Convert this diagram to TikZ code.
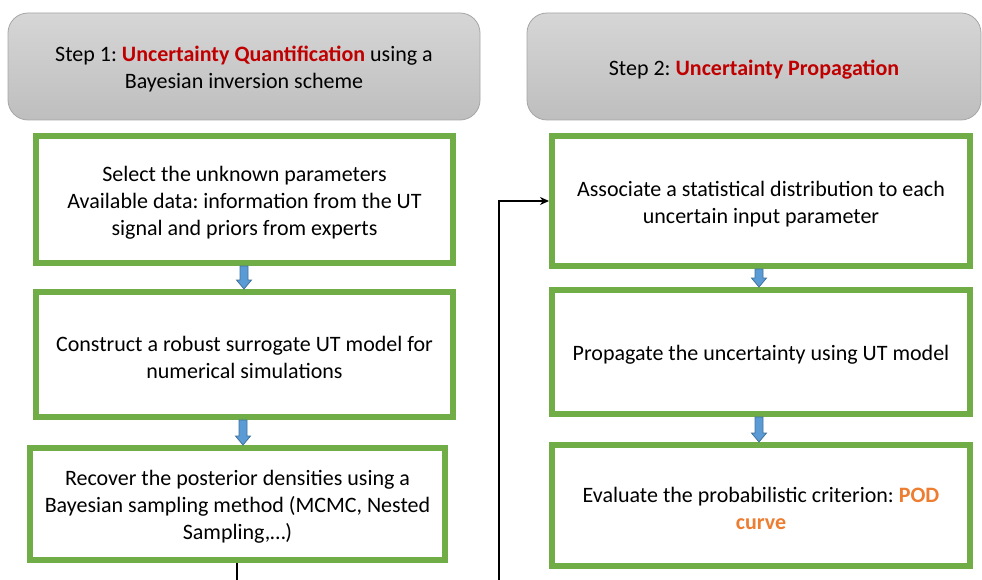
\documentclass[tikz,border=0pt]{standalone}
\usepackage{fontspec}
\setmainfont{Carlito}
\frenchspacing
\usetikzlibrary{arrows.meta,calc}

\definecolor{stepgreen}{HTML}{70AD47}
\definecolor{hdrtop}{HTML}{D6D6D6}
\definecolor{hdrbot}{HTML}{BEBEBE}
\definecolor{hdrline}{HTML}{A6A6A6}
\definecolor{keyred}{HTML}{C00000}
\definecolor{keyorange}{HTML}{ED7D31}
\definecolor{arrowfill}{HTML}{5B9BD5}
\definecolor{arrowline}{HTML}{41719C}

\newcommand{\keyword}[2]{\textcolor{#1}{\textbf{#2}}}

% block arrow from the bottom of one box to the top of the next
\newcommand{\blockarrow}[3]{%
  \path let \p1=(#1.south), \p2=(#2.north) in
    [fill=arrowfill, draw=arrowline, line width=0.8pt]
    ({#3-4pt},\y1) -- ({#3+4pt},\y1) -- ({#3+4pt},{\y2+9pt}) -- ({#3+7.5pt},{\y2+9pt})
    -- (#3,\y2) -- ({#3-7.5pt},{\y2+9pt}) -- ({#3-4pt},{\y2+9pt}) -- cycle;}

\tikzset{
  txt/.style={font=\fontsize{22}{27}\selectfont, align=center, text=black},
  header/.style={txt, rounded corners=20pt, draw=hdrline, line width=0.8pt,
    top color=hdrtop, bottom color=hdrbot, inner sep=0pt},
  stepbox/.style={txt, draw=stepgreen, line width=6pt, fill=white, inner sep=0pt},
  link/.style={draw=black, line width=1.6pt},
  lower/.style={label={[txt, yshift=-3pt]center:{#1}}},
}

\begin{document}
\begin{tikzpicture}[x=1pt, y=-1pt]
\useasboundingbox (0,0) rectangle (982,580);

% column headers
\node[header, minimum width=472pt, minimum height=107pt,
  lower={Step 1: \keyword{keyred}{Uncertainty Quantification} using a\\Bayesian inversion scheme}]
  (h1) at (244,66.5) {};
\node[header, minimum width=454pt, minimum height=107pt,
  lower={Step 2: \keyword{keyred}{Uncertainty Propagation}}]
  (h2) at (754,66.5) {};

% step 1 boxes
\node[stepbox, minimum width=417pt, minimum height=127pt,
  lower={Select the unknown parameters\\Available data: information from the UT\\signal and priors from experts}]
  (a) at (244.5,199.5) {};
\node[stepbox, minimum width=417pt, minimum height=125pt,
  lower={Construct a robust surrogate UT model for\\numerical simulations}]
  (b) at (244.5,354.5) {};
\node[stepbox, minimum width=415pt, minimum height=112pt,
  lower={Recover the posterior densities using a\\Bayesian sampling method (MCMC, Nested\\Sampling,…)}]
  (c) at (237.5,504) {};

% step 2 boxes
\node[stepbox, minimum width=418pt, minimum height=130pt,
  lower={Associate a statistical distribution to each\\uncertain input parameter}]
  (d) at (761,201) {};
\node[stepbox, minimum width=418pt, minimum height=124pt,
  lower={Propagate the uncertainty using UT model}]
  (e) at (761,352) {};
\node[stepbox, minimum width=418pt, minimum height=121pt,
  lower={Evaluate the probabilistic criterion: \keyword{keyorange}{POD}\\\keyword{keyorange}{curve}}]
  (f) at (761,505.5) {};

% block arrows between consecutive steps
\blockarrow{a}{b}{244pt}
\blockarrow{b}{c}{243pt}
\blockarrow{d}{e}{759pt}
\blockarrow{e}{f}{759pt}

% connector from step 1 into step 2
\coordinate (cdown) at (237,580);
\coordinate (loopup) at (499,580);
\draw[link] (c.south -| cdown) -- (cdown);
\draw[link, -{Stealth[length=9pt,width=8pt]}] (loopup) |- (d.west);
\end{tikzpicture}
\end{document}
